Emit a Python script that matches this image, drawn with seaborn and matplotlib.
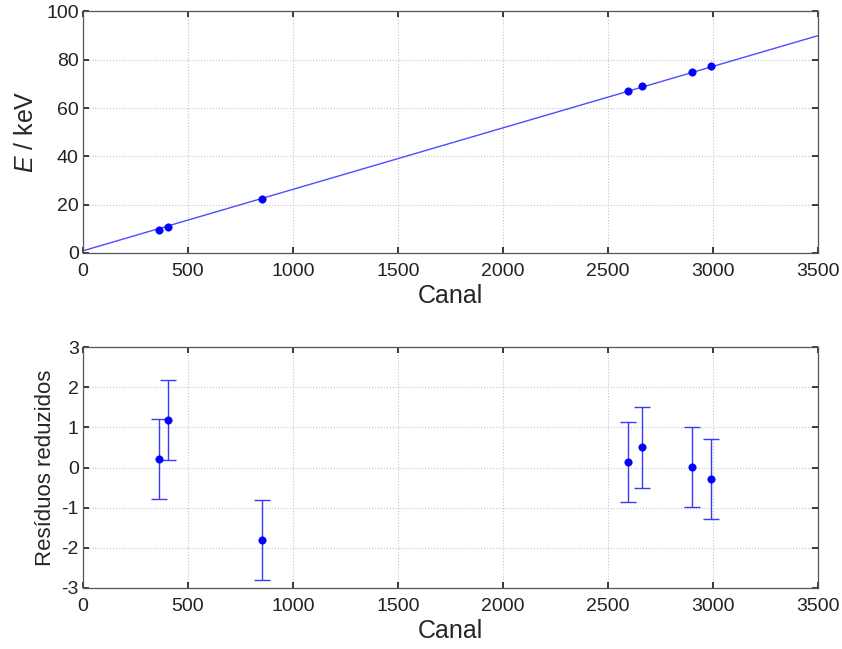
import matplotlib
matplotlib.use("Agg")
import matplotlib.pyplot as plt
import seaborn as sns
import pandas as pd

# ---- data ----
canal = [363, 406, 851, 2597, 2660, 2902, 2990]
energia = [9.5, 10.9, 22.2, 67.2, 69.1, 74.8, 77.4]
residuos = [0.21, 1.19, -1.81, 0.14, 0.50, 0.01, -0.29]
erro_res = [1, 1, 1, 1, 1, 1, 1]
ajuste_canal = [0, 3500]
ajuste_energia = [0.9, 90.0]

x_ticks = [0, 500, 1000, 1500, 2000, 2500, 3000, 3500]
y_ticks_top = [0, 20, 40, 60, 80, 100]
y_ticks_bot = [-3, -2, -1, 0, 1, 2, 3]

sns.set_theme(style="white")
plt.rcParams['font.family'] = ['Liberation Sans', 'DejaVu Sans']
plt.rcParams['mathtext.fontset'] = 'custom'
plt.rcParams['mathtext.rm'] = 'Liberation Sans'
plt.rcParams['mathtext.it'] = 'Liberation Sans:italic'
plt.rcParams['axes.unicode_minus'] = False

df_pts = pd.DataFrame({'Canal': canal, 'E': energia, 'res': residuos, 'err': erro_res})
df_fit = pd.DataFrame({'Canal': ajuste_canal, 'E': ajuste_energia})

fig = plt.figure(figsize=(8.42, 6.49), dpi=100)
ax1 = fig.add_axes([0.0986, 0.6102, 0.8729, 0.3721])
ax2 = fig.add_axes([0.0986, 0.0940, 0.8729, 0.3713])

blue = '#0000ff'
sns.lineplot(data=df_fit, x='Canal', y='E', ax=ax1, color='#4d4dff', linewidth=1.0)
sns.scatterplot(data=df_pts, x='Canal', y='E', ax=ax1, color=blue, s=28,
                edgecolor=blue, linewidth=0.5, zorder=5)

ax2.errorbar(df_pts['Canal'], df_pts['res'], yerr=df_pts['err'], fmt='none',
             ecolor='#3a3aff', elinewidth=1.0, capsize=6, capthick=1.0)
sns.scatterplot(data=df_pts, x='Canal', y='res', ax=ax2, color=blue, s=28,
                edgecolor=blue, linewidth=0.5, zorder=5)

for ax, yt in ((ax1, y_ticks_top), (ax2, y_ticks_bot)):
    ax.set_xlim(0, 3500)
    ax.set_xticks(x_ticks)
    ax.set_ylim(yt[0], yt[-1])
    ax.set_yticks(yt)
    ax.grid(True, linestyle=':', color='#c4c4c4', linewidth=0.8)
    ax.tick_params(direction='in', length=4, labelsize=14, colors='#222222',
                   top=True, right=True, bottom=True, left=True, pad=3)
    ax.tick_params(axis='x', pad=7)
    for s in ax.spines.values():
        s.set_color('#555555')
        s.set_linewidth(0.9)
    ax.set_xlabel('Canal', fontsize=18, labelpad=3)

ax1.set_ylabel(r'$\it{E}$ / keV', fontsize=18, labelpad=6)
ax2.set_ylabel('Resíduos reduzidos', fontsize=16, labelpad=4)

fig.savefig('out.png', dpi=100)
